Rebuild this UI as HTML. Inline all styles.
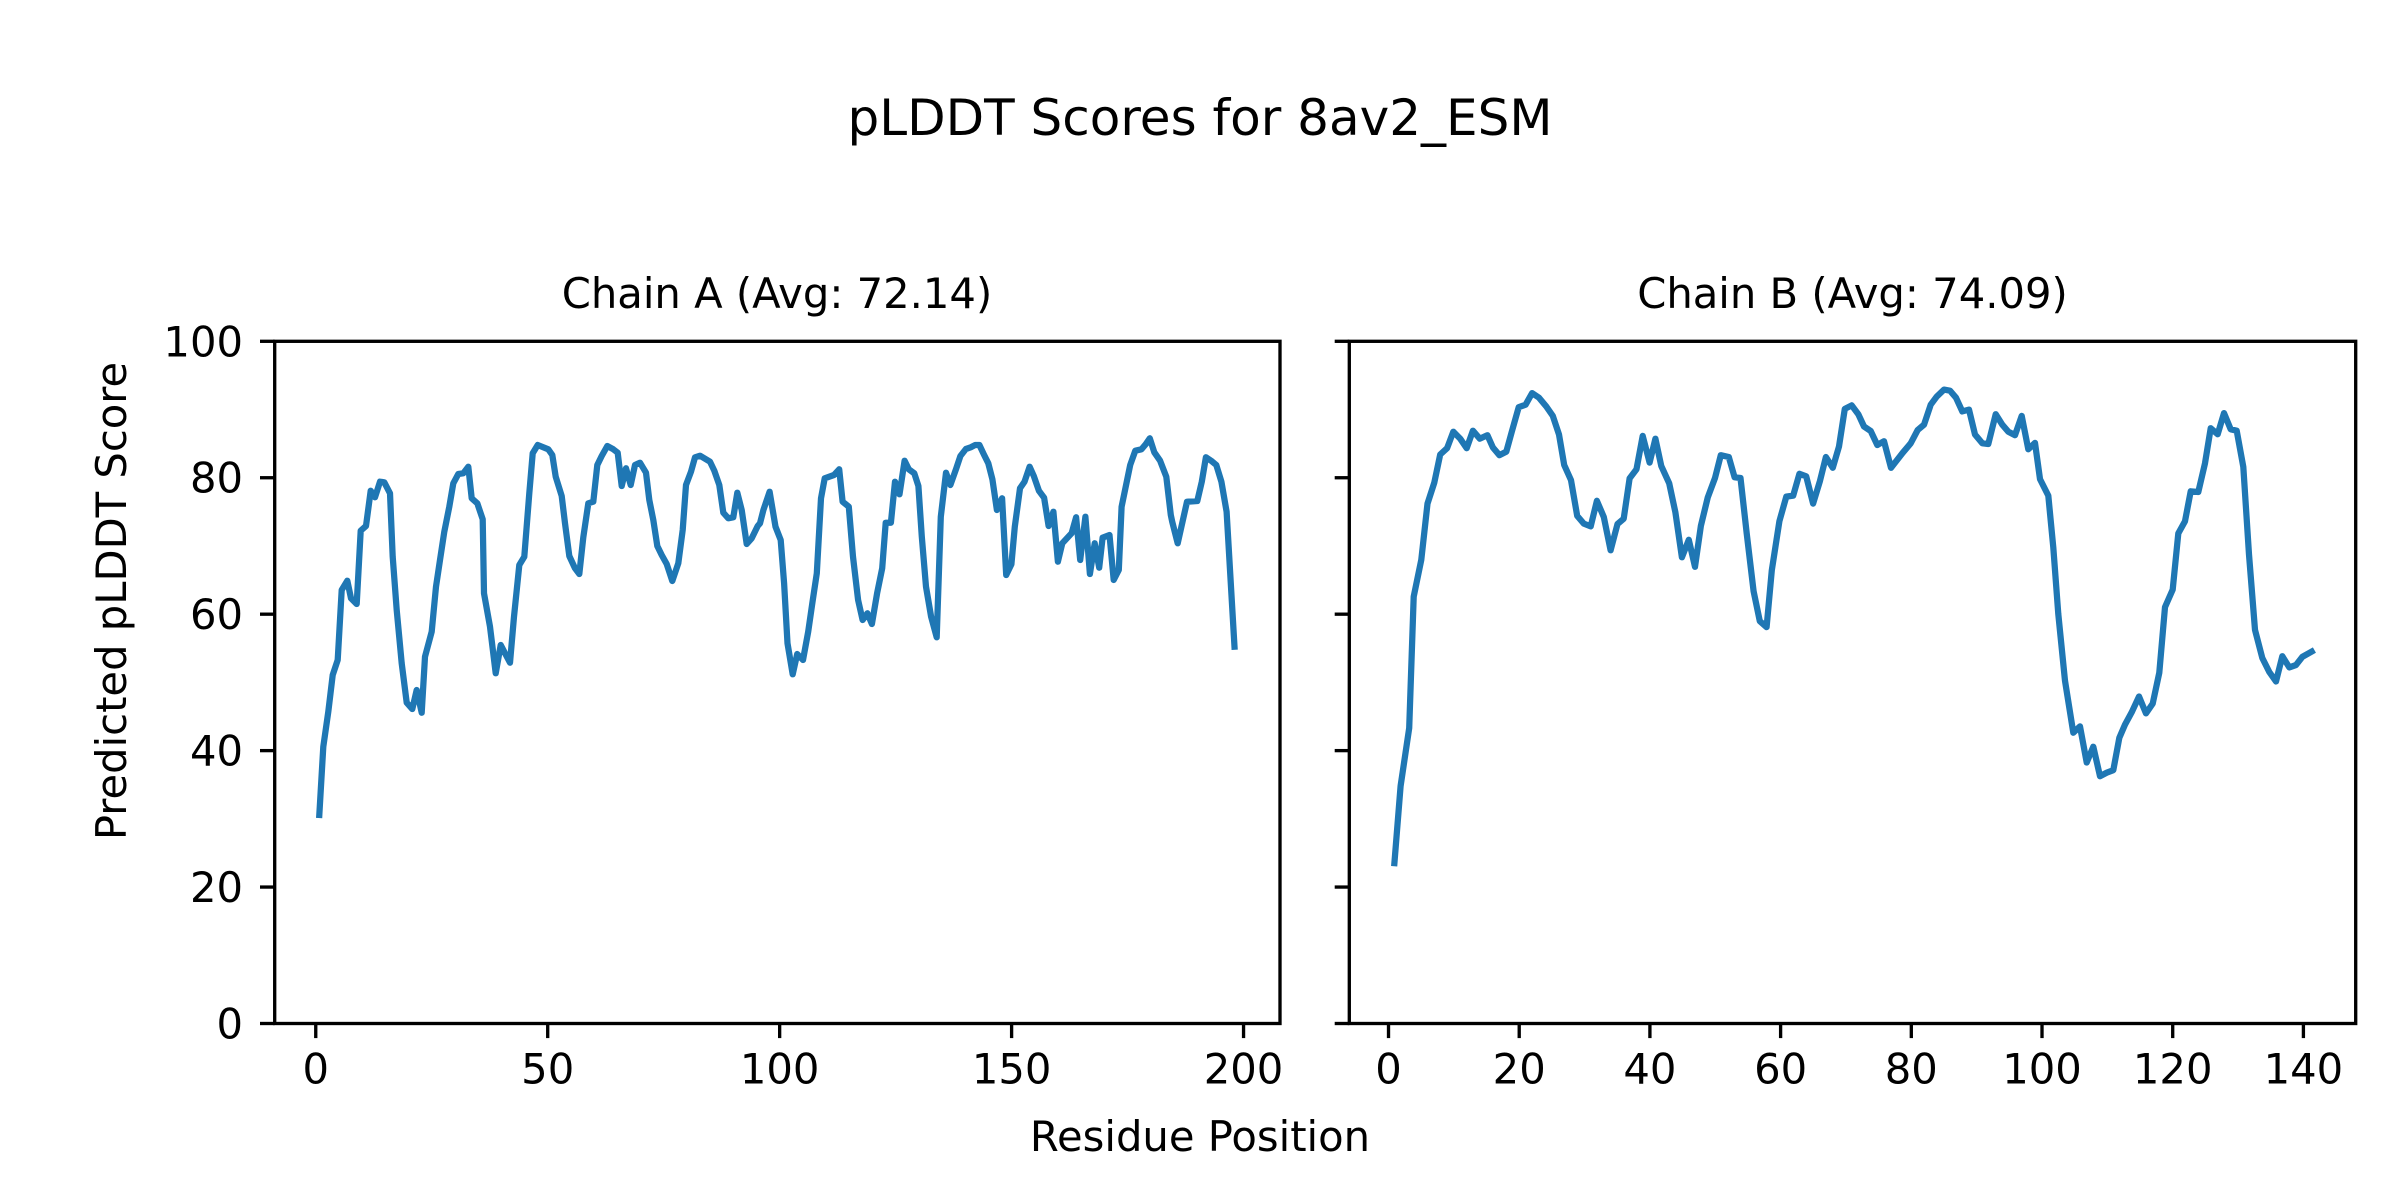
<!DOCTYPE html>
<html><head><meta charset="utf-8">
<style>
html,body{margin:0;padding:0;background:#fff;}
svg{display:block;}
text{font-family:"DejaVu Sans","Liberation Sans",sans-serif;fill:#000;}
</style></head>
<body>
<svg id="s" width="2400" height="1200" viewBox="0 0 2400 1200" xmlns="http://www.w3.org/2000/svg">
<rect width="2400" height="1200" fill="#fff"/>
<text x="1200" y="135" font-size="50" text-anchor="middle">pLDDT Scores for 8av2_ESM</text>
<text x="777" y="308" font-size="41.7" text-anchor="middle">Chain A (Avg: 72.14)</text>
<text x="1852.5" y="308" font-size="41.7" text-anchor="middle">Chain B (Avg: 74.09)</text>
<text x="1200" y="1151" font-size="41.7" text-anchor="middle">Residue Position</text>
<text transform="translate(126,601) rotate(-90)" font-size="41.7" text-anchor="middle">Predicted pLDDT Score</text>
<g id="ticks"></g>
<polyline id="la" fill="none" stroke="#1f77b4" stroke-width="6.25" stroke-linejoin="round" stroke-linecap="square"/>
<polyline id="lb" fill="none" stroke="#1f77b4" stroke-width="6.25" stroke-linejoin="round" stroke-linecap="square"/>
<rect x="274.7" y="341.3" width="1005.3" height="682.2" fill="none" stroke="#000" stroke-width="3.33"/>
<rect x="1349.3" y="341.3" width="1006.4" height="682.2" fill="none" stroke="#000" stroke-width="3.33"/>
</svg>
<script>
var NS="http://www.w3.org/2000/svg";
var z1=[[178,1455],[190,1250],[205,1145],[218,1035],[233,990],[245,780],[262,752],[273,805],[290,822],[302,602],[318,588],[332,482],[345,502],[360,455],[373,457],[390,490],[398,680],[410,840],[425,1000],[440,1118],[457,1137],[470,1080],[485,1148],[495,980],[515,905],[528,770],[540,690],[553,605],[568,530],[580,460],[595,432],[610,430],[625,410],[635,505],[652,520],[668,568],[672,790],[690,890],[707,1030],[722,945],[750,998],[762,860],[778,705],[793,680],[808,490],[818,370],[833,345],[865,358],[877,375],[887,440],[905,498],[915,580],[928,678],[945,715],[958,732],[970,622],[985,520],[1000,515],[1012,405],[1025,378],[1042,348],[1060,358],[1073,368],[1085,468],[1098,415],[1112,465],[1125,405],[1140,398],[1158,428],[1168,510],[1180,570],[1192,648],[1205,675],[1220,702],[1237,753],[1255,700],[1268,600],[1278,465],[1293,425],[1305,382],[1320,377],[1350,395],[1363,422],[1378,465],[1390,548],[1405,565],[1420,562],[1432,488],[1445,540],[1460,642],[1475,625],[1493,588]];
var z2=[[0,580],[10,540],[28,485],[45,590],[60,630],[70,760],[80,940],[95,1033],[108,972],[125,990],[140,905],[152,820],[165,730],[177,505],[188,445],[215,435],[230,418],[240,515],[258,530],[270,680],[285,810],[298,870],[312,850],[325,882],[340,790],[355,715],[365,578],[380,578],[392,455],[405,493],[420,392],[432,418],[448,430],[460,468],[470,620],[482,770],[497,860],[513,922],[525,560],[540,428],[553,465],[570,415],[582,378],[598,357],[612,352],[625,345],[637,345],[650,373],[663,400],[675,448],[688,540],[703,505],[715,735],[730,703],[740,590],[755,475],[768,455],[783,410],[795,438],[810,482],[825,503],[838,588],[852,545],[865,695],[878,640],[905,610],[918,562],[930,690],[945,560],[958,732],[972,640],[985,713],[995,623],[1015,615],[1027,750],[1042,720],[1050,530],[1075,405],[1090,362],[1108,358],[1120,343],[1132,325],[1145,367],[1162,392],[1180,440],[1193,555],[1197,575],[1213,640],[1240,515],[1270,513],[1283,455],[1295,382],[1310,392],[1325,405],[1340,455],[1355,545],[1378,950]];
var z3=[[187,1520],[205,1300],[230,1135],[243,760],[265,655],[283,495],[303,435],[320,355],[340,337],[358,290],[378,310],[397,337],[415,287],[435,310],[457,300],[473,335],[492,357],[512,347],[528,290],[548,220],[568,213],[587,180],[607,193],[628,218],[647,245],[665,298],[680,385],[700,428],[718,530],[737,552],[757,560],[775,487],[795,533],[815,628],[835,553],[853,538],[870,423],[890,397],[908,302],[928,378],[945,310],[962,388],[985,437],[1003,520],[1022,648],[1042,598],[1060,675],[1077,558],[1097,477],[1118,422],[1135,357],[1158,362],[1175,420],[1192,422],[1210,580],[1230,745],[1248,830],[1268,847],[1283,685],[1305,545],[1325,475],[1345,472],[1363,410],[1383,417],[1403,495],[1423,430],[1440,362],[1460,393],[1478,332],[1495,225]];
var z4=[[5,215],[25,240],[42,275],[62,288],[82,328],[102,317],[123,393],[158,350],[182,323],[203,285],[222,270],[242,213],[260,190],[282,170],[300,173],[318,193],[337,232],[357,227],[375,298],[397,323],[415,325],[437,240],[457,270],[475,290],[495,300],[515,245],[535,340],[555,322],[570,425],[595,472],[610,620],[625,810],[645,1000],[670,1148],[690,1130],[710,1233],[730,1188],[750,1272],[770,1262],[790,1255],[808,1163],[825,1125],[845,1090],[867,1045],[888,1093],[908,1065],[928,977],[945,790],[968,740],[985,580],[1005,545],[1022,460],[1045,462],[1065,380],[1082,280],[1103,297],[1122,237],[1142,283],[1160,287],[1180,390],[1197,640],[1215,855],[1237,935],[1258,975],[1278,1002],[1297,930],[1318,962],[1338,955],[1357,932],[1385,917]];
function tr(a,ox,oy,sx,sy){return a.map(function(p){return (ox+p[0]/sx).toFixed(1)+","+(oy+p[1]/sy).toFixed(1);});}
var A=tr(z1,260,330,3,3).concat(tr(z2,760,330,2.904,3));
var B=tr(z3,1330,330,2.904,2.851).concat(tr(z4,1850,330,3,2.851));
document.getElementById("la").setAttribute("points",A.join(" "));
document.getElementById("lb").setAttribute("points",B.join(" "));
var g=document.getElementById("ticks");
function line(x1,y1,x2,y2){var l=document.createElementNS(NS,"line");l.setAttribute("x1",x1);l.setAttribute("y1",y1);l.setAttribute("x2",x2);l.setAttribute("y2",y2);l.setAttribute("stroke","#000");l.setAttribute("stroke-width","3.33");g.appendChild(l);}
function txt(x,y,s,anchor){var t=document.createElementNS(NS,"text");t.setAttribute("x",x);t.setAttribute("y",y);t.setAttribute("font-size","41.7");t.setAttribute("text-anchor",anchor);t.textContent=s;g.appendChild(t);}
for(var v=0;v<=100;v+=20){var y=1023.5-v*6.822;line(260,y,274.7,y);txt(243,y+15,String(v),"end");line(1334.7,y,1349.3,y);}
for(var v=0;v<=200;v+=50){var x=274.7+(v+8.85)*4.639;line(x,1023.5,x,1038.1);txt(x,1083.3,String(v),"middle");}
for(var v=0;v<=140;v+=20){var x=1349.3+(v+6)*6.535;line(x,1023.5,x,1038.1);txt(x,1083.3,String(v),"middle");}
</script>
</body></html>
